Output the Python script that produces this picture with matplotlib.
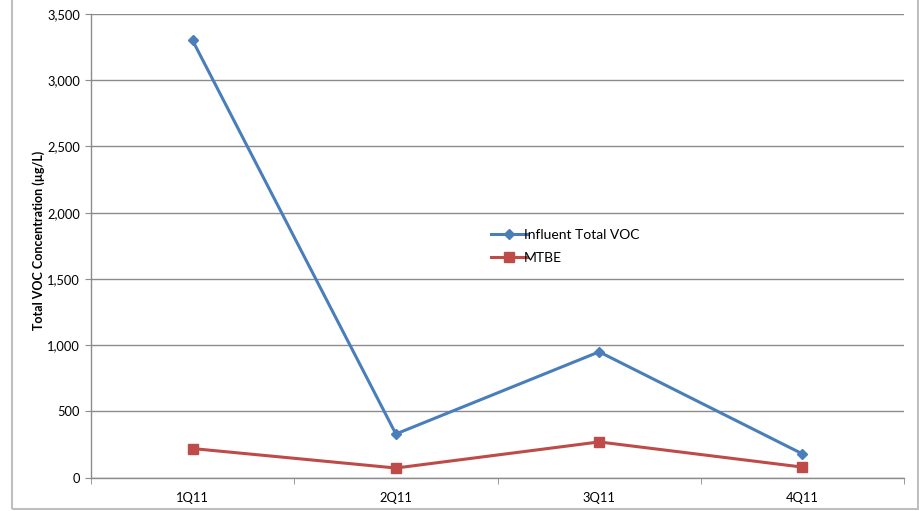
import matplotlib
matplotlib.use("Agg")
import matplotlib.pyplot as plt
from matplotlib.patches import Rectangle
from matplotlib.ticker import FuncFormatter, FixedLocator

quarters = ["1Q11", "2Q11", "3Q11", "4Q11"]
influent_voc = [3300, 330, 950, 180]
mtbe = [220, 73, 270, 80]

plt.rcParams["font.family"] = ["Lato", "DejaVu Sans"]

W, H = 919, 511
fig = plt.figure(figsize=(W / 100, H / 100), dpi=100)
ax = fig.add_axes([91 / W, 1 - 477.7 / H, (904 - 91) / W, (477.7 - 14) / H])

# outer chart frame
fig.patches.append(Rectangle((12 / W, 1 - 509 / H), (918 - 12) / W, 1.2,
                             transform=fig.transFigure, fill=False,
                             edgecolor="#bfbfbf", linewidth=1.5))

x = list(range(len(quarters)))
blue = "#4a7ebb"
red = "#be4b48"
ax.plot(x, influent_voc, color=blue, linewidth=2.2, marker="D", markersize=5.5,
        label="Influent Total VOC")
ax.plot(x, mtbe, color=red, linewidth=2.2, marker="s", markersize=7,
        label="MTBE")

ax.set_xlim(-0.5, len(quarters) - 0.5)
ax.set_ylim(0, 3500)
ax.set_yticks(range(0, 3501, 500))
ax.yaxis.set_major_formatter(FuncFormatter(lambda v, p: f"{int(v):,}"))
ax.set_xticks(x)
ax.set_xticklabels(quarters)
ax.xaxis.set_minor_locator(FixedLocator([i - 0.5 for i in range(len(quarters) + 1)]))

ax.grid(axis="y", color="#8c8c8c", linewidth=1.0)
ax.set_axisbelow(True)
for s in ("top", "right"):
    ax.spines[s].set_visible(False)
for s in ("left", "bottom"):
    ax.spines[s].set_color("#8c8c8c")
    ax.spines[s].set_linewidth(1.0)

ax.tick_params(axis="y", which="major", length=4, color="#8c8c8c", labelsize=9.3, pad=4)
ax.tick_params(axis="x", which="major", length=0, labelsize=9.3, pad=10)
ax.tick_params(axis="x", which="minor", length=4, color="#8c8c8c")

ax.set_ylabel("Total VOC Concentration (µg/L)", fontsize=9, fontweight="bold")
ax.yaxis.set_label_coords((45 - 91) / (904 - 91), (477.7 - 240) / (477.7 - 14))

ax.legend(loc="upper left", bbox_to_anchor=((485 - 91) / (904 - 91), (477.7 - 223) / (477.7 - 14)),
          frameon=False, fontsize=10, handlelength=2.6, handletextpad=-0.2,
          labelspacing=0.8, borderaxespad=0)

fig.savefig("out.png", dpi=100)
